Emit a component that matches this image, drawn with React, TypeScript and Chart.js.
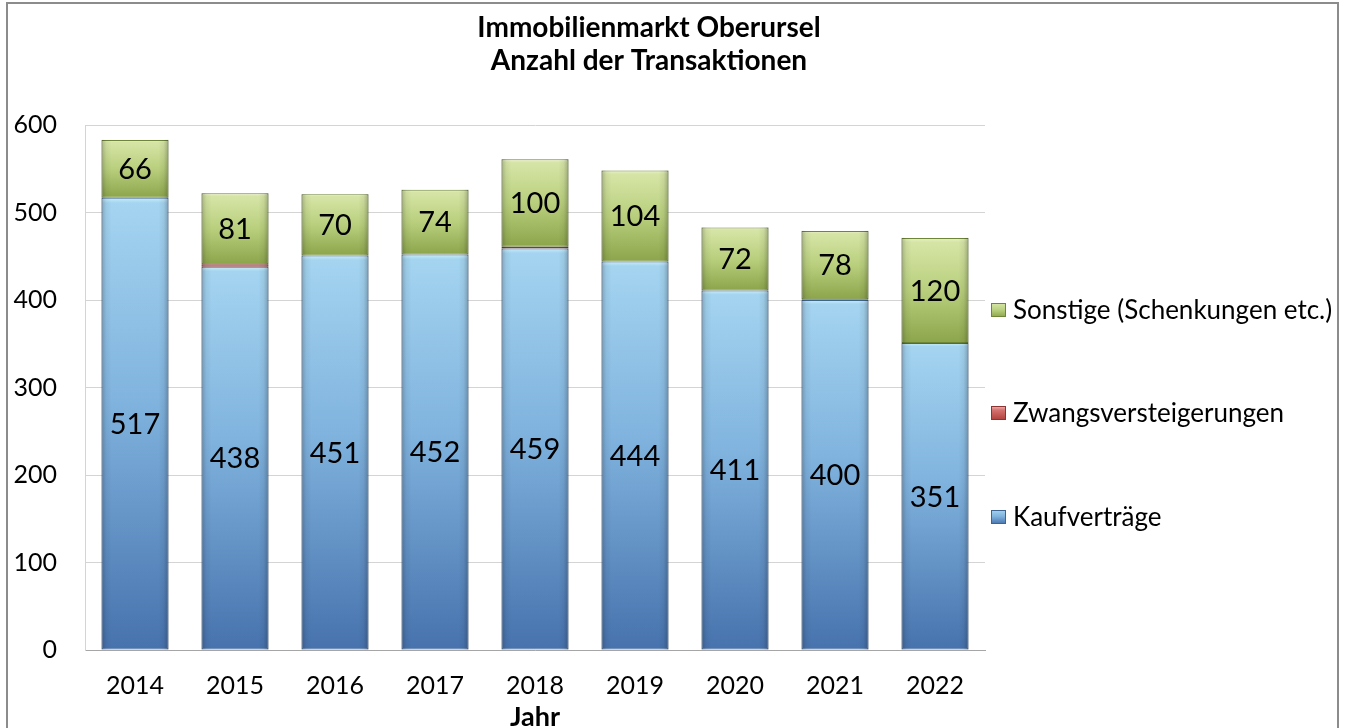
import React, { useEffect, useRef } from "react";
import { Chart, registerables } from "chart.js";

Chart.register(...registerables);

// ---- data ----
const years = ["2014", "2015", "2016", "2017", "2018", "2019", "2020", "2021", "2022"];
const kaufvertraege = [517, 438, 451, 452, 459, 444, 411, 400, 351];
const zwangsversteigerungen = [0, 3, 0, 0, 2, 0, 0, 1, 0];
const sonstige = [66, 81, 70, 74, 100, 104, 72, 78, 120];
const seriesNames = ["Kaufverträge", "Zwangsversteigerungen", "Sonstige (Schenkungen etc.)"];
const showLabels = [true, false, true];
const yMin = 0;
const yMax = 600;
const yStep = 100;
const titleLines = ["Immobilienmarkt Oberursel", "Anzahl der Transaktionen"];
const xAxisTitle = "Jahr";

// ---- styles ----
const FONT = "Lato, 'Liberation Sans', sans-serif";
const gradients: [number, string][][] = [
  [[0, "#c9eef9"], [0.012, "#a4d4f0"], [0.45, "#80b3de"], [1, "#4772ad"]],
  [[0, "#f0b6b4"], [0.3, "#d4716e"], [1, "#b03f3c"]],
  [[0, "#e9f2c6"], [0.04, "#d6e5a6"], [0.5, "#b9cf7d"], [1, "#8ca54b"]],
];
const borderColors = ["#3e6592", "#8c3431", "#6f8638"];

function stackValues(chart: any, dsIndex: number, i: number) {
  let base = 0;
  for (let k = 0; k < dsIndex; k++) base += Number(chart.data.datasets[k].data[i]) || 0;
  const top = base + (Number(chart.data.datasets[dsIndex].data[i]) || 0);
  return { base, top };
}

function makeBg(dsIndex: number) {
  return (ctx: any) => {
    const chart = ctx.chart;
    const stops = gradients[dsIndex];
    const y = chart.scales && chart.scales.y;
    if (!chart.chartArea || !y || ctx.type !== "data") return stops[1][1];
    const { base, top } = stackValues(chart, dsIndex, ctx.dataIndex);
    const y0 = y.getPixelForValue(top);
    const y1 = y.getPixelForValue(base);
    if (!(y1 - y0 > 0.5)) return stops[1][1];
    const g = chart.ctx.createLinearGradient(0, y0, 0, y1);
    stops.forEach(([o, c]) => g.addColorStop(o, c));
    return g;
  };
}

const framePlugin = {
  id: "frame",
  beforeDraw(chart: any) {
    const { ctx, width, height } = chart;
    ctx.save();
    ctx.fillStyle = "#ffffff";
    ctx.fillRect(0, 0, width, height);
    ctx.restore();
  },
  afterDraw(chart: any) {
    const { ctx } = chart;
    ctx.save();
    // outer border
    ctx.strokeStyle = "#8c8c8c";
    ctx.lineWidth = 2;
    ctx.strokeRect(7, 3, 1331, 800);
    // title
    ctx.fillStyle = "#000";
    ctx.font = `bold 28px ${FONT}`;
    ctx.textAlign = "center";
    ctx.textBaseline = "middle";
    titleLines.forEach((t, k) => ctx.fillText(t, 649, 28 + k * 33));
    // legend (reversed order)
    const legendY = [310, 413, 517];
    const order = chart.data.datasets.map((_: any, k: number) => k).reverse();
    ctx.font = `26px ${FONT}`;
    ctx.textAlign = "left";
    order.forEach((dsIndex: number, row: number) => {
      const cy = legendY[row];
      const x0 = 991, s = 15;
      const g = ctx.createLinearGradient(0, cy - 7, 0, cy + 7);
      gradients[dsIndex].forEach(([o, c]) => g.addColorStop(o, c));
      ctx.fillStyle = g;
      ctx.fillRect(x0, cy - 7, s, 14);
      ctx.strokeStyle = borderColors[dsIndex];
      ctx.lineWidth = 1;
      ctx.strokeRect(x0 + 0.5, cy - 6.5, s - 1, 13);
      ctx.fillStyle = "#000";
      ctx.fillText(chart.data.datasets[dsIndex].label, 1013, cy + 1);
    });
    ctx.restore();
  },
  afterDatasetsDraw(chart: any) {
    const { ctx } = chart;
    ctx.save();
    chart.data.datasets.forEach((ds: any, dsIndex: number) => {
      const meta = chart.getDatasetMeta(dsIndex);
      meta.data.forEach((bar: any, i: number) => {
        const { x, y, base, width } = bar.getProps(["x", "y", "base", "width"], true);
        const h = base - y;
        if (h < 1) return;
        const left = x - width / 2;
        // side shading (bevel)
        const sg = ctx.createLinearGradient(left, 0, left + width, 0);
        sg.addColorStop(0, "rgba(0,0,0,0.22)");
        sg.addColorStop(0.07, "rgba(0,0,0,0.05)");
        sg.addColorStop(0.15, "rgba(0,0,0,0)");
        sg.addColorStop(0.85, "rgba(0,0,0,0)");
        sg.addColorStop(0.93, "rgba(0,0,0,0.06)");
        sg.addColorStop(1, "rgba(0,0,0,0.25)");
        ctx.fillStyle = sg;
        ctx.fillRect(left, y, width, h);
        // labels
        if (showLabels[dsIndex]) {
          ctx.fillStyle = "#000";
          ctx.font = `29px ${FONT}`;
          ctx.textAlign = "center";
          ctx.textBaseline = "middle";
          ctx.fillText(String(ds.data[i]), x, (y + base) / 2 + 1);
        }
      });
    });
    ctx.restore();
  },
};

export default function App() {
  const canvasRef = useRef<HTMLCanvasElement | null>(null);

  useEffect(() => {
    if (!canvasRef.current) return;
    const series = [kaufvertraege, zwangsversteigerungen, sonstige];
    const chart = new Chart(canvasRef.current, {
      type: "bar",
      data: {
        labels: years,
        datasets: series.map((values, k) => ({
          label: seriesNames[k],
          data: values,
          backgroundColor: makeBg(k),
          borderColor: borderColors[k],
          borderWidth: 1,
          borderSkipped: false,
          categoryPercentage: 1,
          barPercentage: 0.67,
        })),
      },
      options: {
        responsive: false,
        animation: false,
        devicePixelRatio: 1,
        layout: { padding: { top: 125, right: 362, left: 0, bottom: 0 } },
        plugins: {
          legend: { display: false },
          title: { display: false },
          tooltip: { enabled: false },
        },
        scales: {
          x: {
            stacked: true,
            grid: { display: false, drawTicks: false },
            border: { display: true, color: "#a6a6a6", width: 1 },
            ticks: { font: { family: FONT, size: 25 }, color: "#000", padding: 21, maxRotation: 0 },
            title: {
              display: true,
              text: xAxisTitle,
              color: "#000",
              font: { family: FONT, size: 27, weight: "bold", lineHeight: 0.8 },
              padding: 0,
            },
            afterFit: (s: any) => {
              s.height = 78;
            },
          },
          y: {
            stacked: true,
            min: yMin,
            max: yMax,
            ticks: { stepSize: yStep, font: { family: FONT, size: 25 }, color: "#000", padding: 28 },
            grid: { color: "#d4d4d4", drawTicks: false, lineWidth: 1 },
            border: { display: true, color: "#d4d4d4" },
            afterFit: (s: any) => {
              s.width = 85;
            },
          },
        },
      } as any,
      plugins: [framePlugin],
    });
    return () => chart.destroy();
  }, []);

  return (
    <div style={{ position: "absolute", left: 0, top: 0, width: 1347, height: 728 }}>
      <canvas ref={canvasRef} width={1347} height={728} style={{ display: "block" }} />
    </div>
  );
}
